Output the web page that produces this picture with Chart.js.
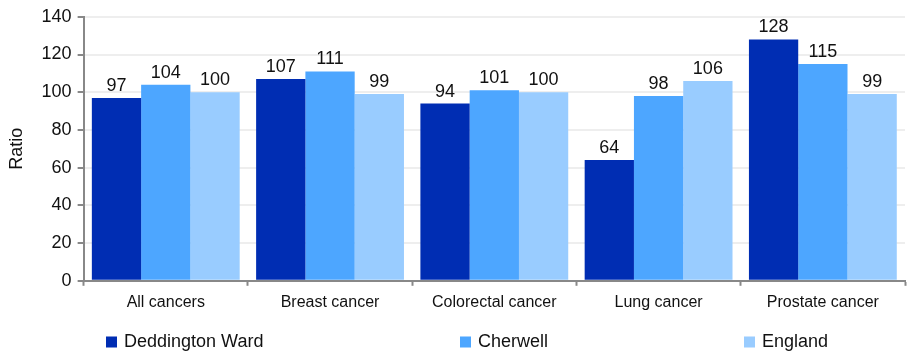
<!DOCTYPE html>
<html>
<head>
<meta charset="utf-8">
<script src="https://cdn.jsdelivr.net/npm/chart.js@4"></script>
<style>
  html, body { margin: 0; padding: 0; background: #fff; }
  #wrap { width: 908px; height: 356px; }
</style>
</head>
<body>
<div id="wrap"><canvas id="chart"></canvas></div>
<script>
// Data
const categories = ['All cancers', 'Breast cancer', 'Colorectal cancer', 'Lung cancer', 'Prostate cancer'];
const deddington = [97, 107, 94, 64, 128];
const cherwell = [104, 111, 101, 98, 115];
const england = [100, 99, 100, 106, 99];

const FONT = '"Liberation Sans", Arial, sans-serif';

// Draw the value above each bar
const valueLabels = {
    id: 'valueLabels',
    afterDatasetsDraw(chart) {
        const ctx = chart.ctx;
        ctx.save();
        ctx.font = '18px ' + FONT;
        ctx.fillStyle = '#111';
        ctx.textAlign = 'center';
        ctx.textBaseline = 'bottom';
        chart.data.datasets.forEach((ds, i) => {
            chart.getDatasetMeta(i).data.forEach((bar, j) => {
                ctx.fillText(ds.data[j], bar.x, bar.y - 3);
            });
        });
        ctx.restore();
    }
};

// Spread-out legend along the bottom
const bottomLegend = {
    id: 'bottomLegend',
    afterDraw(chart) {
        const ctx = chart.ctx;
        const xs = [106, 460, 744];
        const y = 342;
        ctx.save();
        ctx.font = '18px ' + FONT;
        ctx.textBaseline = 'middle';
        ctx.textAlign = 'left';
        chart.data.datasets.forEach((ds, i) => {
            ctx.fillStyle = ds.backgroundColor;
            ctx.fillRect(xs[i], y - 5.5, 11, 11);
            ctx.fillStyle = '#111';
            ctx.fillText(ds.label, xs[i] + 18, y);
        });
        ctx.restore();
    }
};

new Chart(document.getElementById('chart'), {
    type: 'bar',
    data: {
        labels: categories,
        datasets: [
            { label: 'Deddington Ward', data: deddington, backgroundColor: '#002DB3' },
            { label: 'Cherwell', data: cherwell, backgroundColor: '#4DA6FF' },
            { label: 'England', data: england, backgroundColor: '#99CCFF' }
        ]
    },
    options: {
        responsive: true,
        maintainAspectRatio: false,
        animation: false,
        layout: { padding: { top: 2, right: 3, left: 6, bottom: 37 } },
        datasets: {
            bar: { categoryPercentage: 0.9, barPercentage: 1.0 }
        },
        plugins: {
            tooltip: { enabled: false },
            legend: { display: false }
        },
        scales: {
            x: {
                grid: {
                    display: true,
                    drawOnChartArea: false,
                    offset: true,
                    tickLength: 5,
                    tickColor: '#888',
                    tickWidth: 2
                },
                border: { color: '#888', width: 2 },
                ticks: {
                    font: { family: FONT, size: 16 },
                    color: '#111',
                    padding: 7
                }
            },
            y: {
                min: 0,
                max: 140,
                ticks: {
                    stepSize: 20,
                    autoSkip: false,
                    font: { family: FONT, size: 18 },
                    color: '#111',
                    padding: 6
                },
                grid: {
                    color: '#EEEEEE',
                    lineWidth: 2,
                    tickLength: 6,
                    tickColor: '#888',
                    tickWidth: 2
                },
                border: { color: '#888', width: 2 },
                title: {
                    display: true,
                    text: 'Ratio',
                    font: { family: FONT, size: 18 },
                    color: '#111',
                    padding: { top: 0, bottom: 8 }
                }
            }
        }
    },
    plugins: [valueLabels, bottomLegend]
});
</script>
</body>
</html>
